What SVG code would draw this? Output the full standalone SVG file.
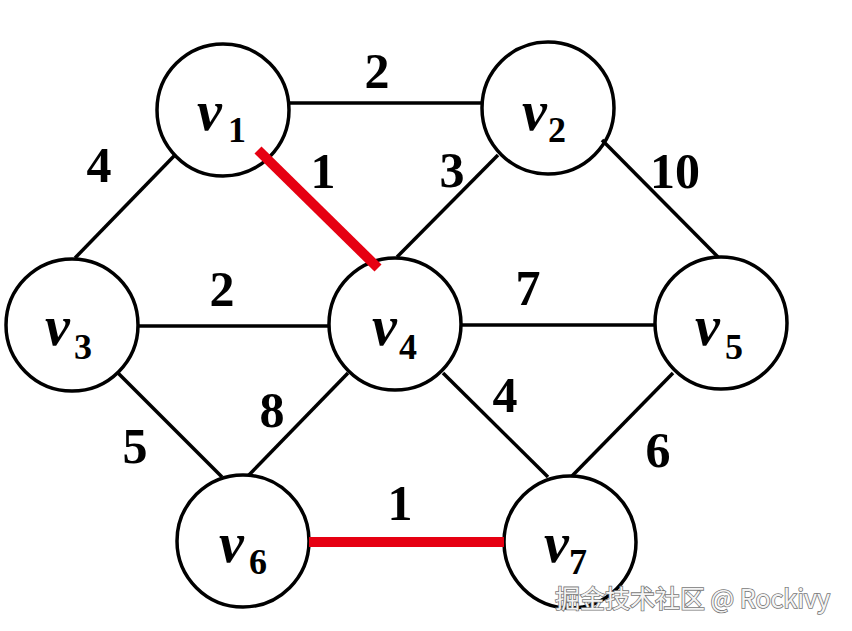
<svg xmlns="http://www.w3.org/2000/svg" width="852" height="631" viewBox="0 0 852 631">
<style>
.node circle{fill:#fff;stroke:#000;stroke-width:3.5}
.e{stroke:#000;stroke-width:3.5;fill:none}
.r{stroke:#e60012;stroke-width:10;fill:none}
.v{font-family:"Liberation Serif","Times New Roman",serif;font-weight:bold;font-style:italic;font-size:56px;fill:#000}
.s{font-family:"Liberation Serif","Times New Roman",serif;font-weight:bold;font-size:36px;fill:#000}
.w{font-family:"Liberation Serif","Times New Roman",serif;font-weight:bold;font-size:50px;fill:#000;text-anchor:middle}
.wm{font-family:"Noto Sans CJK SC","Noto Sans",sans-serif;font-size:25px;fill:#f4f4f4;stroke:#777;stroke-width:1.6;paint-order:stroke}
</style>
<rect width="852" height="631" fill="#fff"/>
<g id="v1" class="node"><circle cx="223" cy="110" r="66"/><text class="v" x="197" y="130">v</text><text class="s" x="228" y="142">1</text></g>
<g id="v2" class="node"><circle cx="548" cy="108" r="66"/><text class="v" x="522" y="130">v</text><text class="s" x="548" y="142">2</text></g>
<g id="v3" class="node"><circle cx="72" cy="325" r="66"/><text class="v" x="45" y="345">v</text><text class="s" x="74" y="359">3</text></g>
<g id="v4" class="node"><circle cx="395" cy="324" r="66"/><text class="v" x="372" y="345">v</text><text class="s" x="399" y="359">4</text></g>
<g id="v5" class="node"><circle cx="721" cy="323" r="66"/><text class="v" x="695" y="345">v</text><text class="s" x="725" y="359">5</text></g>
<g id="v6" class="node"><circle cx="243" cy="541" r="66"/><text class="v" x="219" y="562">v</text><text class="s" x="249" y="574">6</text></g>
<g id="v7" class="node"><circle cx="570" cy="542" r="66"/><text class="v" x="544" y="562">v</text><text class="s" x="569" y="574">7</text></g>
<g id="connectors">
<line class="e" x1="289" y1="103" x2="482" y2="103"/>
<line class="e" x1="175" y1="155" x2="75" y2="258"/>
<line class="e" x1="498" y1="155" x2="397" y2="257"/>
<line class="e" x1="602" y1="140" x2="718" y2="257"/>
<line class="e" x1="138" y1="326" x2="329" y2="326"/>
<line class="e" x1="461" y1="325" x2="655" y2="325"/>
<line class="e" x1="118" y1="373" x2="222" y2="477"/>
<line class="e" x1="348" y1="373" x2="248" y2="476"/>
<line class="e" x1="443" y1="373" x2="548" y2="477"/>
<line class="e" x1="673" y1="373" x2="572" y2="476"/>
<line class="r" x1="258" y1="150" x2="378" y2="268"/>
<line class="r" x1="309" y1="542" x2="504" y2="542"/>
</g>
<g id="weights">
<text class="w" x="377" y="88">2</text>
<text class="w" x="99" y="182">4</text>
<text class="w" x="323" y="188">1</text>
<text class="w" x="452" y="187">3</text>
<text class="w" x="675" y="188">10</text>
<text class="w" x="222" y="306">2</text>
<text class="w" x="528" y="305">7</text>
<text class="w" x="272" y="427">8</text>
<text class="w" x="505" y="412">4</text>
<text class="w" x="135" y="463">5</text>
<text class="w" x="658" y="467">6</text>
<text class="w" x="400" y="520">1</text>
</g>
<text class="wm" x="555" y="608">掘金技术社区 @ Rockivy</text>
</svg>
